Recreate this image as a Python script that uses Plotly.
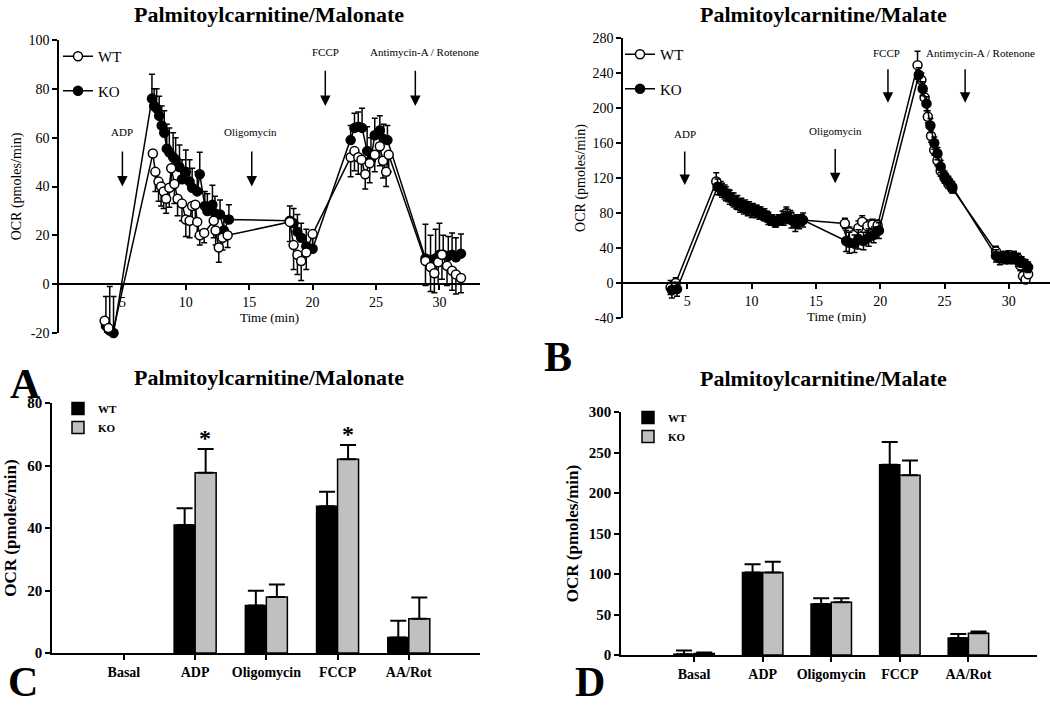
import plotly.graph_objects as go

FONT = "Liberation Serif"
W, H = 1050, 707

# ---------------- Panel A: Palmitoylcarnitine/Malonate time course ----------------
a_wt_t = [3.6, 3.9, 4.2,
          7.4, 7.6, 7.85, 8.05, 8.25, 8.45, 8.7, 8.85, 9.1, 9.35, 9.7, 10.0, 10.3, 10.5, 10.75, 10.9, 11.1, 11.45, 12.2, 12.35, 12.6, 12.9, 13.3,
          18.2, 18.5, 18.8, 19.1, 19.5, 20.0,
          23.0, 23.3, 23.6, 23.85, 24.15, 24.5, 24.9, 25.3, 25.55, 25.8, 26.0,
          28.9, 29.3, 29.6, 29.9, 30.2, 30.6, 31.0, 31.3, 31.7]
a_wt = [-15, -18, -21,
        53.5, 46, 42, 40, 38, 35, 39.5, 47.5, 41, 35, 33, 26.5, 26, 32, 32.5, 25.5, 20, 21, 26, 22, 15, 19, 20,
        25.5, 16, 12, 9.5, 13, 20.5,
        52, 54.5, 52, 51, 45, 49.5, 53, 56.5, 50.5, 46, 53,
        9.5, 7, 4.5, 9, 12, 7.5, 5.5, 4, 2.5]
a_wt_err = [7, 6, 4,
            0, 8, 8, 8, 7, 6, 8, 8, 8, 7, 7, 7, 7, 7, 7, 6, 4, 4, 7, 6, 6, 5, 5,
            8, 10, 8, 8, 7, 5,
            8, 8, 7, 6, 6, 8, 7, 8, 7, 6, 7,
            10, 10, 8, 9, 10, 8, 8, 8, 6]

a_ko_t = [3.7, 4.0, 4.3,
          7.33, 7.5, 7.7, 7.9, 8.1, 8.3, 8.5, 8.7, 9.0, 9.2, 9.5, 9.7, 10.0, 10.3, 10.5, 10.9, 11.1, 11.5, 11.7, 12.1, 12.3, 12.7, 13.0, 13.4,
          18.2, 18.5, 18.8, 19.1, 19.5, 20.0,
          23.0, 23.3, 23.6, 23.9, 24.3, 24.6, 24.9, 25.3, 25.6, 25.9,
          28.9, 29.3, 29.7, 30.0, 30.3, 30.7, 31.0, 31.3, 31.7]
a_ko = [-17, -19, -20,
        76, 73, 72, 69, 65, 62, 55.5, 54, 52, 51, 48, 43, 46, 42, 39.5, 38, 45, 32, 30, 32.5, 29, 28.5, 22, 26.5,
        26, 25, 21.5, 19, 15.5, 14.5,
        59, 64, 64.5, 64, 54.5, 51, 61, 63, 59.5, 59,
        10.5, 10, 10.5, 12, 12, 11.5, 12, 11, 12.5]
a_ko_err = [12, 18, 15,
            10, 7, 8, 8, 8, 9, 10, 10, 10, 9, 9, 8, 9, 9, 8, 8, 9, 6, 7, 8, 7, 6, 6, 6,
            6, 6, 7, 6, 7, 6,
            6, 6, 6, 8, 10, 9, 7, 6, 6, 6,
            14, 10, 12, 13, 8, 8, 9, 8, 8]

# ---------------- Panel B: Palmitoylcarnitine/Malate time course ----------------
b_wt_t = [3.7, 4.1,
          7.25, 7.6, 7.9, 8.2, 8.5, 8.8, 9.1, 9.4, 9.7, 10.0, 10.3, 10.6, 10.9, 11.2, 11.5, 11.8, 12.1, 12.4, 12.7, 13.0, 13.3, 13.6, 13.9,
          17.25, 17.6, 17.9, 18.3, 18.6, 19.0, 19.4, 19.8,
          22.9, 23.2, 23.45, 23.7, 23.95, 24.2, 24.45, 24.7, 25.0, 25.3, 25.6,
          29.0, 29.3, 29.7, 30.0, 30.4, 30.7, 30.9, 31.1, 31.3, 31.5]
b_wt = [-5, 0,
        116, 108, 104, 100, 96, 92, 88, 86, 84, 82, 82, 80, 78, 76, 72, 70, 72, 74, 80, 76, 72, 70, 72,
        68, 58, 55, 63, 70, 65, 67, 66,
        249, 232, 212, 190, 168, 152, 140, 128, 120, 113, 108,
        36, 30, 30, 28, 30, 28, 20, 8, 4, 10]
b_wt_err = [8, 6,
            10, 8, 8, 7, 7, 7, 7, 7, 7, 7, 7, 7, 6, 6, 6, 6, 6, 8, 7, 7, 6, 6, 6,
            6, 6, 7, 8, 7, 7, 6, 6,
            16, 8, 7, 7, 7, 6, 6, 6, 6, 5, 5,
            6, 6, 6, 6, 6, 6, 6, 5, 4, 4]

b_ko_t = [3.8, 4.2,
          7.35, 7.7, 8.0, 8.3, 8.6, 8.9, 9.2, 9.5, 9.8, 10.1, 10.4, 10.7, 11.0, 11.3, 11.6, 11.9, 12.2, 12.5, 12.8, 13.1, 13.4, 13.7, 14.0,
          17.35, 17.6, 18.0, 18.3, 18.7, 19.1, 19.5, 19.9,
          23.0, 23.3, 23.6, 23.9, 24.2, 24.45, 24.7, 25.0, 25.3, 25.6,
          29.0, 29.3, 29.7, 30.0, 30.4, 30.7, 31.0, 31.3, 31.5]
b_ko = [-8, -7,
        110, 106, 102, 98, 95, 92, 90, 88, 86, 84, 82, 80, 78, 74, 72, 70, 72, 74, 76, 72, 68, 70, 72,
        48, 46, 45, 50, 48, 52, 55, 60,
        238, 222, 205, 180, 160, 148, 133, 122, 116, 110,
        31, 28, 29, 30, 29, 26, 24, 21, 18]
b_ko_err = [9, 8,
            9, 8, 8, 8, 8, 8, 7, 7, 7, 7, 7, 7, 7, 7, 6, 6, 6, 8, 8, 9, 9, 8, 8,
            12, 12, 10, 11, 10, 10, 9, 9,
            8, 8, 8, 8, 7, 7, 7, 6, 6, 6,
            7, 7, 7, 7, 7, 7, 6, 6, 6]

# ---------------- Panels C & D: bar summaries ----------------
cats = ["Basal", "ADP", "Oligomycin", "FCCP", "AA/Rot"]
c_wt = [None, 41, 15.2, 47, 5]
c_wt_err = [0, 5.3, 4.7, 4.6, 5.3]
c_ko = [None, 57.7, 17.9, 62, 11]
c_ko_err = [0, 7.6, 4.0, 4.6, 6.8]

d_wt = [1, 102, 63, 235, 21]
d_wt_err = [4.5, 10, 7, 28, 5]
d_ko = [2, 102, 65, 222, 27]
d_ko_err = [1, 13, 5, 18, 2]

a_yticks = [-20, 0, 20, 40, 60, 80, 100]
b_yticks = [-40, 0, 40, 80, 120, 160, 200, 240, 280]

fig = go.Figure()


def dom_x(p0, p1):
    return [p0 / W, p1 / W]


def dom_y(top_px, bottom_px):
    return [1 - bottom_px / H, 1 - top_px / H]


line_style = dict(color="black", width=1.5)
marker_wt = dict(symbol="circle", size=9, color="white", line=dict(color="black", width=1.5))
marker_ko = dict(symbol="circle", size=9, color="black", line=dict(color="black", width=1.5))

# Panel A traces (KO first so open circles sit on top)
fig.add_trace(go.Scatter(x=a_ko_t, y=a_ko, mode="lines+markers", name="KO", line=line_style,
                         marker=marker_ko, cliponaxis=False, legendgroup="ko", legendrank=2,
                         error_y=dict(type="data", symmetric=False, array=a_ko_err,
                                      arrayminus=[0] * len(a_ko_err), color="black", thickness=1.5, width=3),
                         xaxis="x", yaxis="y", legend="legend"))
fig.add_trace(go.Scatter(x=a_wt_t, y=a_wt, mode="lines+markers", name="WT", line=line_style,
                         marker=marker_wt, cliponaxis=False, legendgroup="wt", legendrank=1,
                         error_y=dict(type="data", symmetric=False, array=[0] * len(a_wt_err),
                                      arrayminus=a_wt_err, color="black", thickness=1.5, width=3),
                         xaxis="x", yaxis="y", legend="legend"))

# Panel B traces
fig.add_trace(go.Scatter(x=b_wt_t, y=b_wt, mode="lines+markers", name="WT", line=line_style,
                         marker=marker_wt, cliponaxis=False, legendgroup="wt2", legendrank=1,
                         error_y=dict(type="data", array=b_wt_err, color="black", thickness=1.5, width=3),
                         xaxis="x2", yaxis="y2", legend="legend2"))
fig.add_trace(go.Scatter(x=b_ko_t, y=b_ko, mode="lines+markers", name="KO", line=line_style,
                         marker=marker_ko, cliponaxis=False, legendgroup="ko2", legendrank=2,
                         error_y=dict(type="data", array=b_ko_err, color="black", thickness=1.5, width=3),
                         xaxis="x2", yaxis="y2", legend="legend2"))

# Panel C bars
bar_line = dict(color="black", width=1.5)
fig.add_trace(go.Bar(x=cats, y=c_wt, name="WT", marker=dict(color="black", line=bar_line),
                     error_y=dict(type="data", symmetric=False, array=c_wt_err, arrayminus=[0] * 5,
                                  color="black", thickness=2, width=8),
                     xaxis="x3", yaxis="y3", legend="legend3"))
fig.add_trace(go.Bar(x=cats, y=c_ko, name="KO", marker=dict(color="#c0c0c0", line=bar_line),
                     error_y=dict(type="data", symmetric=False, array=c_ko_err, arrayminus=[0] * 5,
                                  color="black", thickness=2, width=8),
                     xaxis="x3", yaxis="y3", legend="legend3"))

# Panel D bars
fig.add_trace(go.Bar(x=cats, y=d_wt, name="WT", marker=dict(color="black", line=bar_line),
                     error_y=dict(type="data", symmetric=False, array=d_wt_err, arrayminus=[0] * 5,
                                  color="black", thickness=2, width=8),
                     xaxis="x4", yaxis="y4", legend="legend4"))
fig.add_trace(go.Bar(x=cats, y=d_ko, name="KO", marker=dict(color="#c0c0c0", line=bar_line),
                     error_y=dict(type="data", symmetric=False, array=d_ko_err, arrayminus=[0] * 5,
                                  color="black", thickness=2, width=8),
                     xaxis="x4", yaxis="y4", legend="legend4"))

# ----- axes -----
reg = dict(family=FONT, size=14, color="black")
bold = dict(family=FONT, size=15, color="black", weight="bold")

a_xd, a_yd = dom_x(59, 480), dom_y(40, 333)
a_yr = [-20, 100]
a_zero = a_yd[0] + (0 - a_yr[0]) / (a_yr[1] - a_yr[0]) * (a_yd[1] - a_yd[0])
b_xd, b_yd = dom_x(623, 1050), dom_y(38, 318)
b_yr = [-40, 280]
b_zero = b_yd[0] + (0 - b_yr[0]) / (b_yr[1] - b_yr[0]) * (b_yd[1] - b_yd[0])

common_x = dict(showline=True, linecolor="black", linewidth=1.5, ticks="outside", ticklen=5,
                tickwidth=1.5, tickcolor="black", showgrid=False, zeroline=False, tickfont=reg,
                automargin=False)
common_y = dict(showline=True, linecolor="black", linewidth=1.5, ticks="outside", ticklen=5,
                tickwidth=1.5, tickcolor="black", showgrid=False, zeroline=False, tickfont=reg,
                automargin=False)

fig.update_layout(
    xaxis=dict(common_x, domain=a_xd, range=[0, 33.2], tickvals=[5, 10, 15, 20, 25, 30],
               anchor="free", position=a_zero,
               title=dict(text="Time (min)", font=dict(family=FONT, size=13, color="black"), standoff=0)),
    yaxis=dict(common_y, domain=a_yd, range=a_yr, tickvals=a_yticks,
               ticktext=[str(v) for v in a_yticks], anchor="x",
               title=dict(text="OCR (pmoles/min)", font=dict(family=FONT, size=14, color="black"), standoff=4)),
    xaxis2=dict(common_x, domain=b_xd, range=[0, 33.2], tickvals=[5, 10, 15, 20, 25, 30],
                anchor="free", position=b_zero,
                title=dict(text="Time (min)", font=dict(family=FONT, size=13, color="black"), standoff=0)),
    yaxis2=dict(common_y, domain=b_yd, range=b_yr, tickvals=b_yticks,
                ticktext=[str(v) for v in b_yticks], anchor="x2",
                title=dict(text="OCR (pmoles/min)", font=dict(family=FONT, size=14, color="black"), standoff=4)),
    xaxis3=dict(common_x, domain=dom_x(52, 480), range=[-1.01, 5.0], type="category",
                categoryorder="array", categoryarray=cats, anchor="y3",
                tickfont=dict(family=FONT, size=14, color="black", weight="bold")),
    yaxis3=dict(common_y, domain=dom_y(403, 653), range=[0, 80], dtick=20, anchor="x3", tickfont=bold,
                title=dict(text="OCR (pmoles/min)", font=dict(family=FONT, size=17, color="black", weight="bold"),
                           standoff=6)),
    xaxis4=dict(common_x, domain=dom_x(621, 1037), range=[-1.066, 5.0], type="category",
                categoryorder="array", categoryarray=cats, anchor="y4",
                tickfont=dict(family=FONT, size=14, color="black", weight="bold")),
    yaxis4=dict(common_y, domain=dom_y(412, 655), range=[0, 300], dtick=50, anchor="x4", tickfont=bold,
                title=dict(text="OCR (pmoles/min)", font=dict(family=FONT, size=17, color="black", weight="bold"),
                           standoff=6)),
    barmode="group", bargap=0.41, bargroupgap=0,
    width=W, height=H, margin=dict(l=0, r=0, t=0, b=0, pad=0, autoexpand=False),
    paper_bgcolor="white", plot_bgcolor="white",
    font=dict(family=FONT, color="black"),
    legend=dict(x=58 / W, y=1 - 40 / H, xanchor="left", yanchor="top", bgcolor="rgba(0,0,0,0)",
                font=dict(family=FONT, size=15, color="black"), tracegroupgap=12, traceorder="grouped"),
    legend2=dict(x=620 / W, y=1 - 38 / H, xanchor="left", yanchor="top", bgcolor="rgba(0,0,0,0)",
                 font=dict(family=FONT, size=15, color="black"), tracegroupgap=12, traceorder="grouped"),
    legend3=dict(x=58 / W, y=1 - 394 / H, xanchor="left", yanchor="top", bgcolor="rgba(0,0,0,0)",
                 font=dict(family=FONT, size=11, color="black", weight="bold"), tracegroupgap=0),
    legend4=dict(x=628 / W, y=1 - 403 / H, xanchor="left", yanchor="top", bgcolor="rgba(0,0,0,0)",
                 font=dict(family=FONT, size=11, color="black", weight="bold"), tracegroupgap=0),
)

# ----- annotations: titles, panel letters, injection arrows, asterisks -----
title_font = dict(family=FONT, size=22, color="black", weight="bold")
letter_font = dict(family=FONT, size=42, color="black", weight="bold")
ann = []
for txt, cx, cy in [("Palmitoylcarnitine/Malonate", 269, 14), ("Palmitoylcarnitine/Malate", 823, 14),
                    ("Palmitoylcarnitine/Malonate", 269, 377), ("Palmitoylcarnitine/Malate", 823, 378)]:
    ann.append(dict(text=txt, x=cx / W, y=1 - cy / H, xref="paper", yref="paper", showarrow=False,
                    xanchor="center", yanchor="middle", font=title_font))
# panel letters: (letter, centre x px, bottom of text box px)
for txt, cx, by in [("A", 25, 409), ("B", 558, 382), ("C", 23, 707), ("D", 590, 707)]:
    ann.append(dict(text=txt, x=cx / W, y=1 - by / H, xref="paper", yref="paper", showarrow=False,
                    xanchor="center", yanchor="bottom", font=letter_font))

small = dict(family=FONT, size=11, color="black")
# injection markers: (label, text x, text y, arrow x, arrow tail y, arrow head y, axes)
inj = [("ADP", 5.0, 59, 5.0, 55, 40, "x", "y"),
       ("Oligomycin", 15.1, 59, 15.2, 55, 40, "x", "y"),
       ("FCCP", 21.0, 92, 21.0, 88, 73, "x", "y"),
       ("Antimycin-A / Rotenone", 28.8, 92, 28.1, 88, 73, "x", "y"),
       ("ADP", 4.8, 161, 4.8, 152, 112, "x2", "y2"),
       ("Oligomycin", 16.5, 165, 16.5, 155, 114, "x2", "y2"),
       ("FCCP", 20.5, 254, 20.6, 246, 206, "x2", "y2"),
       ("Antimycin-A / Rotenone", 27.8, 254, 26.6, 246, 206, "x2", "y2")]
for lab, tx, ty, axx, tail, head, xr, yr in inj:
    ann.append(dict(text=lab, x=tx, y=ty, xref=xr, yref=yr, showarrow=False, yanchor="bottom",
                    font=small))
    ann.append(dict(text="", x=axx, y=head, ax=axx, ay=tail, xref=xr, yref=yr, axref=xr, ayref=yr,
                    showarrow=True, arrowhead=2, arrowsize=1.4, arrowwidth=1.5, arrowcolor="black"))

for cat, top in [("ADP", c_ko[1] + c_ko_err[1]), ("FCCP", c_ko[3] + c_ko_err[3])]:
    ann.append(dict(text="*", x=cat, y=top, xref="x3", yref="y3", xshift=10, yshift=-4, showarrow=False,
                    yanchor="bottom", font=dict(family=FONT, size=24, color="black", weight="bold")))

fig.update_layout(annotations=ann)
fig.write_html("out.html", post_script="document.body.style.margin='0';",
               config={"displayModeBar": False})
